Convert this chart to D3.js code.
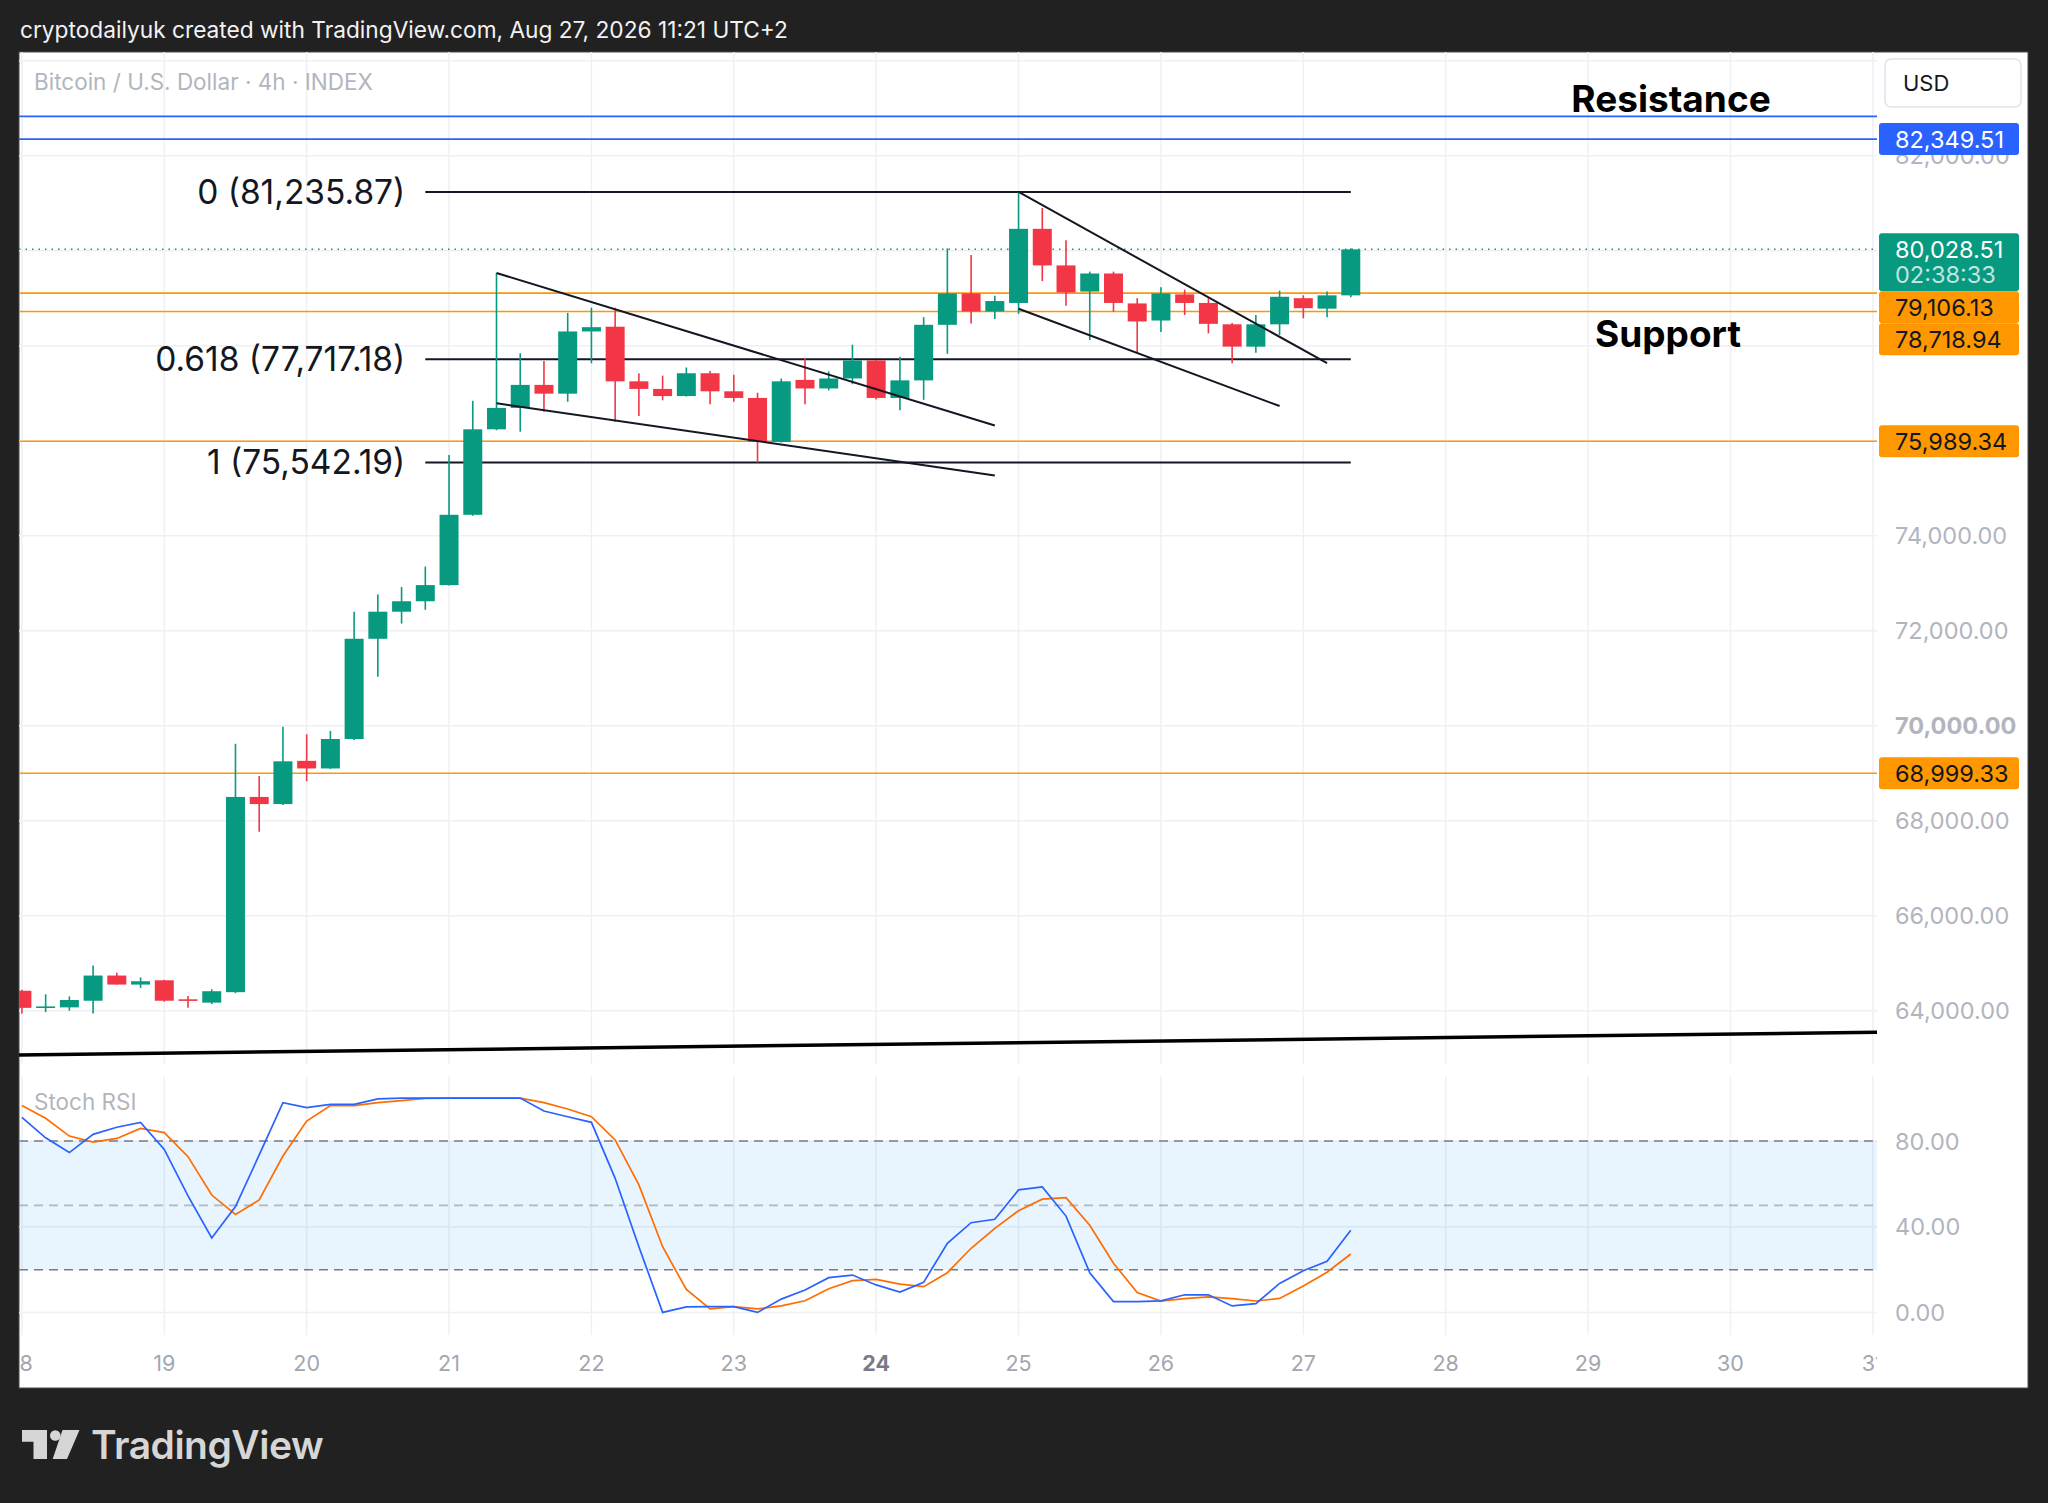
<!DOCTYPE html>
<html>
<head>
<meta charset="utf-8">
<script src="https://cdn.jsdelivr.net/npm/d3@7"></script>
<style>
	html, body { margin: 0; padding: 0; background: #212121; }
	svg { display: block; }
</style>
</head>
<body>
<svg id="chart"></svg>
<script>
// day labels on the time axis (one per 6 candles of 4h)
const days = [18, 19, 20, 21, 22, 23, 24, 25, 26, 27, 28, 29, 30, 31]
const bold_day = 24

// 4h candles, Aug 18 00:00 onwards
const opens = [64420, 64070, 64070, 64210, 64740, 64550, 64640, 64240, 64170, 64390,
	68500, 68350, 69260, 69100, 69720, 71830, 72400, 72620, 72960, 74440,
	76240, 76690, 77175, 76990, 78300, 78400, 77250, 77090, 76940, 77420,
	77040, 76900, 75975, 77280, 77100, 77310, 77690, 76900, 77270, 78440,
	79100, 78720, 78900, 80460, 79690, 79140, 79520, 78890, 78530, 79080,
	78900, 78450, 77980, 78450, 79000, 78780, 79060]
const highs = [64440, 64345, 64300, 64950, 64800, 64700, 64650, 64310, 64450, 69620,
	68940, 69980, 69820, 69890, 72400, 72760, 72920, 73350, 75700, 76840,
	79530, 77840, 77680, 78690, 78800, 78800, 77420, 77370, 77540, 77470,
	77390, 77010, 77310, 77740, 77460, 78020, 77700, 77770, 78600, 80050,
	79910, 79050, 81235.87, 80900, 80220, 79560, 79560, 79000, 79230, 79180,
	79000, 78480, 78646, 79158, 79060, 79140, 80050]
const lows = [63940, 63970, 64000, 63940, 64550, 64480, 64190, 64060, 64140, 64370,
	67770, 68330, 68830, 69090, 69700, 71030, 72150, 72440, 72950, 74420,
	76220, 76190, 76610, 76820, 77630, 76400, 76520, 76850, 76930, 76770,
	76820, 75542.19, 75960, 76770, 77060, 77190, 76870, 76640, 76860, 77830,
	78470, 78560, 78670, 79360, 78840, 78120, 78716, 77853, 78290, 78646,
	78260, 77629, 77853, 78225, 78576, 78597, 79020]
const closes = [64060, 64090, 64225, 64740, 64550, 64620, 64210, 64210, 64410, 68500,
	68350, 69250, 69100, 69720, 71830, 72400, 72620, 72960, 74440, 76240,
	76690, 77175, 76990, 78300, 78390, 77250, 77090, 76940, 77420, 77040,
	76900, 75975, 77250, 77100, 77310, 77690, 76900, 77270, 78440, 79100,
	78720, 78940, 80460, 79690, 79120, 79520, 78900, 78510, 79100, 78900,
	78460, 77980, 78450, 79030, 78790, 79060, 80028.51]

// stoch rsi %K and %D
const stoch_k = [91, 81.5, 74.6, 83.1, 86.4, 88.7, 76.1, 54.4, 34.8, 49.4,
	73.5, 97.9, 95.6, 97.1, 97.1, 99.6, 100, 100, 100, 100,
	100, 100, 94.0, 91.3, 88.7, 62.6, 30.7, 0.1, 2.7, 2.75,
	2.75, 0.1, 6.3, 10.5, 16.3, 17.5, 12.9, 9.6, 14.1, 32.3,
	41.9, 43.5, 57.2, 58.6, 45.0, 18.6, 5.1, 5.1, 5.5, 8.3,
	8.3, 3.1, 4.2, 13.6, 19.5, 23.9, 38.4]
const stoch_d = [96.5, 90.6, 82.3, 79.5, 81.2, 85.9, 83.9, 72.7, 54.8, 45.8,
	52.5, 73.0, 89.3, 96.5, 96.5, 97.9, 98.8, 99.9, 100, 100,
	100, 100, 97.9, 94.9, 91.3, 80.5, 59.5, 30.7, 10.8, 1.7,
	2.75, 1.7, 3.1, 5.5, 11.1, 14.9, 15.5, 13.3, 12.1, 18.6,
	30.0, 39.3, 47.5, 52.9, 53.6, 40.7, 23.0, 9.4, 5.4, 6.5,
	7.3, 6.5, 5.4, 6.6, 12.4, 18.8, 27.3]
const stoch_levels = [80, 50, 20]
const stoch_ticks = [80, 40, 0]

// drawings
const resistance_levels = [82828, 82349.51]
const support_levels = [79106.13, 78718.94, 75989.34, 68999.33]
const fib_high = 81235.87
const fib_low = 75542.19
const fib_levels = [0, 0.618, 1]
const fib_span = [17, 56]
// [index, price, index, price]
const wedge_lines = [
	[20, 79530, 41, 76319],
	[20, 76788, 41, 75269],
	[42, 81235.87, 55, 77633],
	[42, 78777, 53, 76730]
]
const trend_line = [0, 63070, 78, 63545]
const countdown = "02:38:33"
const header = "cryptodailyuk created with TradingView.com, Aug 27, 2026 11:21 UTC+2"
const symbol_title = "Bitcoin / U.S. Dollar · 4h · INDEX"

const font = "Inter, 'Noto Sans', sans-serif"
const width = 2048
const height = 1503
const panel = { left: 19, right: 2028, top: 52, bottom: 1388 }
const plot_right = 1877
const main_pane = { top: 52, bottom: 1068 }
const stoch_pane = { top: 1072, bottom: 1335 }
const grid_color = "#eef0f4"
const up_color = "#089981"
const down_color = "#f23645"
const axis_text = "#b2b5be"
const axis_font = "23.5px"

const price_fmt = d3.format(",.2f")

const svg = d3.select("#chart")
	.attr("width", width)
	.attr("height", height)
	.style("background", "#212121")
	.style("font-family", font)

// scales
const x = d3.scaleLinear().domain([0, 56]).range([21.9, 21.9 + 56 * 23.73])
const y = d3.scaleLinear().domain([64000, 82000]).range([1010.7, 155.7])
const y_stoch = d3.scaleLinear().domain([0, 100]).range([1312.6, 1098.1])
const x_min = x.invert(panel.left)
const x_max = x.invert(plot_right)

// header
svg.append("text")
	.attr("x", 20).attr("y", 29)
	.attr("dominant-baseline", "central")
	.text(header)
	.style("font-size", "22.7px")
	.style("fill", "#f2f2f2")

// white panel
svg.append("rect")
	.attr("x", panel.left).attr("y", panel.top)
	.attr("width", panel.right - panel.left)
	.attr("height", panel.bottom - panel.top)
	.style("fill", "#fff")
	.style("stroke", "#4a4a4a")
	.style("stroke-width", 1)

const defs = svg.append("defs")
defs.append("clipPath").attr("id", "clip-main")
	.append("rect")
	.attr("x", panel.left).attr("y", main_pane.top)
	.attr("width", plot_right - panel.left)
	.attr("height", main_pane.bottom - main_pane.top)
defs.append("clipPath").attr("id", "clip-stoch")
	.append("rect")
	.attr("x", panel.left).attr("y", stoch_pane.top)
	.attr("width", plot_right - panel.left)
	.attr("height", stoch_pane.bottom - stoch_pane.top)
defs.append("clipPath").attr("id", "clip-time")
	.append("rect")
	.attr("x", panel.left).attr("y", stoch_pane.bottom)
	.attr("width", plot_right - panel.left)
	.attr("height", panel.bottom - stoch_pane.bottom)

const day_index = days.map((d, k) => k * 6)

// grid: main pane
const main = svg.append("g").attr("clip-path", "url(#clip-main)")
const price_ticks = d3.range(64000, 84001, 2000)

main.selectAll(".hgrid")
	.data(price_ticks)
	.enter()
	.append("line")
	.attr("x1", panel.left).attr("x2", plot_right)
	.attr("y1", (d) => y(d)).attr("y2", (d) => y(d))
	.style("stroke", grid_color)
	.style("stroke-width", 1.5)

main.selectAll(".vgrid")
	.data(day_index)
	.enter()
	.append("line")
	.attr("x1", (d) => x(d)).attr("x2", (d) => x(d))
	.attr("y1", main_pane.top).attr("y2", main_pane.bottom - 4)
	.style("stroke", grid_color)
	.style("stroke-width", 1.5)

main.append("text")
	.attr("x", 34).attr("y", 81)
	.attr("dominant-baseline", "central")
	.text(symbol_title)
	.style("font-size", "22.5px")
	.style("fill", axis_text)

// horizontal levels
main.selectAll(".resistance")
	.data(resistance_levels)
	.enter()
	.append("line")
	.attr("x1", panel.left).attr("x2", plot_right)
	.attr("y1", (d) => y(d)).attr("y2", (d) => y(d))
	.style("stroke", "#2962ff")
	.style("stroke-width", 1.6)

main.selectAll(".support")
	.data(support_levels)
	.enter()
	.append("line")
	.attr("x1", panel.left).attr("x2", plot_right)
	.attr("y1", (d) => y(d)).attr("y2", (d) => y(d))
	.style("stroke", "#ff9800")
	.style("stroke-width", 1.6)

// current price line
const last_close = closes[closes.length - 1]
main.append("line")
	.attr("x1", panel.left).attr("x2", plot_right)
	.attr("y1", y(last_close)).attr("y2", y(last_close))
	.style("stroke", up_color)
	.style("stroke-width", 1.5)
	.style("stroke-dasharray", "1.5,5")

// fibonacci retracement
const fib = fib_levels.map((level) => ({ level, price: fib_high - level * (fib_high - fib_low) }))
main.selectAll(".fib")
	.data(fib)
	.enter()
	.append("line")
	.attr("x1", x(fib_span[0])).attr("x2", x(fib_span[1]))
	.attr("y1", (d) => y(d.price)).attr("y2", (d) => y(d.price))
	.style("stroke", "#131722")
	.style("stroke-width", 2)

main.selectAll(".fib-label")
	.data(fib)
	.enter()
	.append("text")
	.attr("x", x(fib_span[0]) - 20)
	.attr("y", (d) => y(d.price))
	.attr("text-anchor", "end")
	.attr("dominant-baseline", "central")
	.text((d) => `${d.level} (${price_fmt(d.price)})`)
	.style("font-size", "33.5px")
	.style("fill", "#131722")

// candles
const candles = opens.map((o, i) => ({ i, o, h: highs[i], l: lows[i], c: closes[i] }))
const candle = main.selectAll(".candle")
	.data(candles)
	.enter()
	.append("g")

candle.append("line")
	.attr("x1", (d) => x(d.i)).attr("x2", (d) => x(d.i))
	.attr("y1", (d) => y(d.h)).attr("y2", (d) => y(d.l))
	.style("stroke", (d) => d.c >= d.o ? up_color : down_color)
	.style("stroke-width", 1.6)

candle.append("rect")
	.attr("x", (d) => x(d.i) - 9.5)
	.attr("width", 19)
	.attr("y", (d) => y(Math.max(d.o, d.c)))
	.attr("height", (d) => Math.max(1.6, Math.abs(y(d.o) - y(d.c))))
	.style("fill", (d) => d.c >= d.o ? up_color : down_color)

// wedge lines
main.selectAll(".wedge")
	.data(wedge_lines)
	.enter()
	.append("line")
	.attr("x1", (d) => x(d[0])).attr("y1", (d) => y(d[1]))
	.attr("x2", (d) => x(d[2])).attr("y2", (d) => y(d[3]))
	.style("stroke", "#131722")
	.style("stroke-width", 2)

// long trend line, extended both ways
const trend_at = (i) => trend_line[1] + (i - trend_line[0]) * (trend_line[3] - trend_line[1]) / (trend_line[2] - trend_line[0])
main.append("line")
	.attr("x1", x(x_min)).attr("y1", y(trend_at(x_min)))
	.attr("x2", x(x_max)).attr("y2", y(trend_at(x_max)))
	.style("stroke", "#000")
	.style("stroke-width", 3.5)

// annotations
main.append("text")
	.attr("x", 1671).attr("y", y(resistance_levels[0]) - 18)
	.attr("text-anchor", "middle")
	.attr("dominant-baseline", "central")
	.text("Resistance")
	.style("font-size", "37px")
	.style("font-weight", "700")
	.style("fill", "#000")

main.append("text")
	.attr("x", 1668).attr("y", y(support_levels[1]) + 22)
	.attr("text-anchor", "middle")
	.attr("dominant-baseline", "central")
	.text("Support")
	.style("font-size", "37px")
	.style("font-weight", "700")
	.style("fill", "#000")

// stoch rsi pane
const stoch = svg.append("g").attr("clip-path", "url(#clip-stoch)")

stoch.selectAll(".vgrid")
	.data(day_index)
	.enter()
	.append("line")
	.attr("x1", (d) => x(d)).attr("x2", (d) => x(d))
	.attr("y1", stoch_pane.top + 4).attr("y2", stoch_pane.bottom)
	.style("stroke", grid_color)
	.style("stroke-width", 1.5)

stoch.selectAll(".hgrid")
	.data(stoch_ticks)
	.enter()
	.append("line")
	.attr("x1", panel.left).attr("x2", plot_right)
	.attr("y1", (d) => y_stoch(d)).attr("y2", (d) => y_stoch(d))
	.style("stroke", grid_color)
	.style("stroke-width", 1.5)

stoch.append("rect")
	.attr("x", panel.left)
	.attr("width", plot_right - panel.left)
	.attr("y", y_stoch(stoch_levels[0]))
	.attr("height", y_stoch(stoch_levels[2]) - y_stoch(stoch_levels[0]))
	.style("fill", "rgba(33, 150, 243, 0.1)")

stoch.selectAll(".level")
	.data(stoch_levels)
	.enter()
	.append("line")
	.attr("x1", panel.left).attr("x2", plot_right)
	.attr("y1", (d) => y_stoch(d)).attr("y2", (d) => y_stoch(d))
	.style("stroke", (d) => d === 50 ? "rgba(120, 123, 134, 0.5)" : "#787b86")
	.style("stroke-width", 1.6)
	.style("stroke-dasharray", "9,6")

const stoch_line = d3.line()
	.x((d, i) => x(i))
	.y((d) => y_stoch(d))

stoch.append("path")
	.attr("d", stoch_line(stoch_d))
	.style("fill", "none")
	.style("stroke", "#ff6d00")
	.style("stroke-width", 1.7)

stoch.append("path")
	.attr("d", stoch_line(stoch_k))
	.style("fill", "none")
	.style("stroke", "#2962ff")
	.style("stroke-width", 1.7)

stoch.append("text")
	.attr("x", 34).attr("y", 1101)
	.attr("dominant-baseline", "central")
	.text("Stoch RSI")
	.style("font-size", "22.5px")
	.style("fill", axis_text)

// time axis
svg.append("g")
	.attr("clip-path", "url(#clip-time)")
	.selectAll("text")
	.data(days)
	.enter()
	.append("text")
	.attr("x", (d, k) => x(day_index[k]))
	.attr("y", 1363)
	.attr("text-anchor", "middle")
	.attr("dominant-baseline", "central")
	.text((d) => d)
	.style("font-size", "21.5px")
	.style("font-weight", (d) => d === bold_day ? "700" : "400")
	.style("fill", (d) => d === bold_day ? "#787b86" : "#a3a6af")

// price labels, pushed down when they overlap
const last_label = { price: last_close, fill: up_color, color: "#fff", extra: countdown }
const labels = [
	{ price: resistance_levels[1], fill: "#2962ff", color: "#fff" },
	last_label,
	...support_levels.map((p) => ({ price: p, fill: "#ff9800", color: "#131722" }))
].sort((a, b) => y(a.price) - y(b.price))

let prev_bottom = -Infinity
labels.forEach((d) => {
	d.top = Math.max(y(d.price) - 16, prev_bottom)
	d.height = d.extra ? 58 : 32
	prev_bottom = d.top + d.height
})

// a tick label fully hidden behind a price label is not drawn
const hidden = (t) => labels.some((d) => y(t) - 8 >= d.top && y(t) + 8 <= d.top + d.height)

const axis = svg.append("g")

axis.selectAll(".tick")
	.data(price_ticks.filter((d) => d <= 82000 && !hidden(d)))
	.enter()
	.append("text")
	.attr("x", 1895)
	.attr("y", (d) => y(d))
	.attr("dominant-baseline", "central")
	.text((d) => price_fmt(d))
	.style("font-size", axis_font)
	.style("font-weight", (d) => d === 70000 ? "700" : "400")
	.style("fill", axis_text)

axis.selectAll(".stoch-tick")
	.data(stoch_ticks)
	.enter()
	.append("text")
	.attr("x", 1895)
	.attr("y", (d) => y_stoch(d))
	.attr("dominant-baseline", "central")
	.text((d) => d3.format(".2f")(d))
	.style("font-size", axis_font)
	.style("fill", axis_text)

const label = axis.selectAll(".label")
	.data(labels)
	.enter()
	.append("g")

label.append("rect")
	.attr("x", 1879).attr("width", 140)
	.attr("y", (d) => d.top).attr("height", (d) => d.height)
	.attr("rx", 3)
	.style("fill", (d) => d.fill)

label.append("text")
	.attr("x", 1895)
	.attr("y", (d) => d.top + 16)
	.attr("dominant-baseline", "central")
	.text((d) => price_fmt(d.price))
	.style("font-size", axis_font)
	.style("fill", (d) => d.color)

label.filter((d) => d.extra)
	.append("text")
	.attr("x", 1895)
	.attr("y", (d) => d.top + 41)
	.attr("dominant-baseline", "central")
	.text((d) => d.extra)
	.style("font-size", axis_font)
	.style("fill", "rgba(255, 255, 255, 0.75)")

// currency button
axis.append("rect")
	.attr("x", 1885).attr("y", 59)
	.attr("width", 136).attr("height", 48)
	.attr("rx", 6)
	.style("fill", "#fff")
	.style("stroke", "#e0e3eb")
	.style("stroke-width", 1.5)

axis.append("text")
	.attr("x", 1903).attr("y", 83)
	.attr("dominant-baseline", "central")
	.text("USD")
	.style("font-size", "22px")
	.style("fill", "#131722")

// footer logo
const logo = svg.append("g").style("fill", "#d6d6d6")
logo.append("path").attr("d", "M22,1430 H47 V1459 H33.5 V1441.7 H22 Z")
logo.append("circle").attr("cx", 55.3).attr("cy", 1435.5).attr("r", 5.3)
logo.append("path").attr("d", "M62.5,1430 H79.5 L67,1459 H52.7 Z")
logo.append("text")
	.attr("x", 91).attr("y", 1459)
	.text("TradingView")
	.style("font-size", "39px")
	.style("font-weight", "600")
	.style("letter-spacing", "-0.5px")
</script>
</body>
</html>
